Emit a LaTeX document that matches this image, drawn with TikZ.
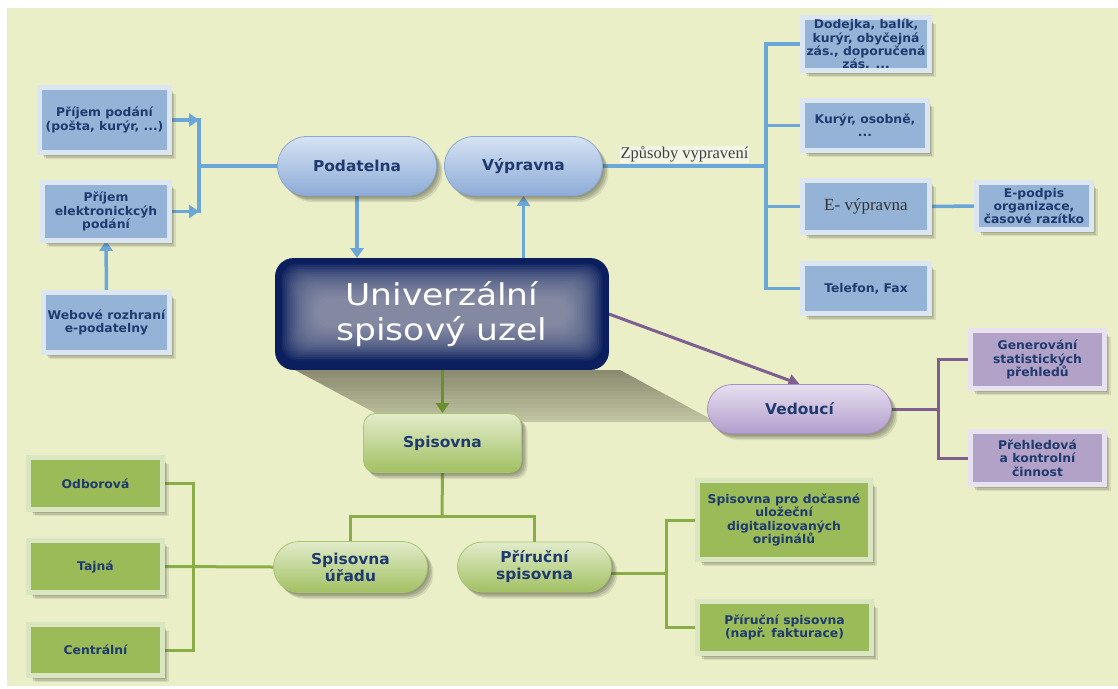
\documentclass[tikz,border=0pt]{standalone}
\usepackage{fontspec}
\setmainfont{DejaVu Sans}
\newfontfamily\bfont[FakeStretch=1.03]{DejaVu Sans}
\newfontfamily\cfont[FakeStretch=1.15]{DejaVu Sans}
\newfontfamily\sfont{Liberation Serif}
\usetikzlibrary{arrows.meta,shadows,calc}
\pgfdeclarelayer{back}
\pgfdeclarelayer{lines}
\pgfsetlayers{back,lines,main}

\definecolor{cream}{HTML}{EAEFC8}
\definecolor{ctxt}{HTML}{1F3A6E}
\definecolor{cBline}{HTML}{6AA7D8}
\definecolor{cBfill}{HTML}{95B3D7}
\definecolor{cBlight}{HTML}{DCE6F3}
\definecolor{cBedge}{HTML}{8CA8D2}
\definecolor{cBtop}{HTML}{D6E2F2}
\definecolor{cBbot}{HTML}{8DACD8}
\definecolor{cPfill}{HTML}{B3A2C7}
\definecolor{cPlight}{HTML}{E8E1F0}
\definecolor{cPedge}{HTML}{A592BE}
\definecolor{cPline}{HTML}{7F5F90}
\definecolor{cPtop}{HTML}{E7DFF0}
\definecolor{cPbot}{HTML}{B29DCD}
\definecolor{cGfill}{HTML}{9BBB59}
\definecolor{cGlight}{HTML}{DAE6C2}
\definecolor{cGedge}{HTML}{A9C570}
\definecolor{cGline}{HTML}{8AAE47}
\definecolor{cGarr}{HTML}{6B8E2E}
\definecolor{cGtop}{HTML}{E2ECCB}
\definecolor{cGbot}{HTML}{A2C062}
\definecolor{cNavy}{HTML}{0B1F5E}
\definecolor{cGlow}{HTML}{A6A7B8}
\definecolor{cLbl}{HTML}{F3F5E6}
\definecolor{cShTop}{HTML}{8A8B70}
\definecolor{cShBot}{HTML}{C6C9A6}
\definecolor{cShadow}{HTML}{3E3F2E}

\tikzset{
  shd/.style={
    drop shadow={shadow xshift=1.5pt,shadow yshift=-2pt,opacity=0.16,fill=cShadow},
    drop shadow={shadow xshift=3pt,shadow yshift=-3.5pt,opacity=0.16,fill=cShadow},
    drop shadow={shadow xshift=4.5pt,shadow yshift=-5pt,opacity=0.16,fill=cShadow},
    drop shadow={shadow xshift=6pt,shadow yshift=-6.5pt,opacity=0.12,fill=cShadow}},
  box/.style={rectangle, line width=0.7pt, double distance=4.5pt, text=ctxt, align=center,
    font=\bfont\bfseries\fontsize{12}{13.3}\selectfont, inner sep=1pt, shd},
  bluebox/.style={box, draw=cBedge, double=cBlight, fill=cBfill},
  purplebox/.style={box, draw=cPedge, double=cPlight, fill=cPfill},
  greenbox/.style={box, draw=cGedge, double=cGlight, fill=cGfill},
  pill/.style={rectangle, line width=0.8pt, text=ctxt, align=center,
    font=\bfont\bfseries\fontsize{15}{17}\selectfont, inner sep=1pt, shd},
  bluepill/.style={pill, draw=cBedge, top color=cBtop, bottom color=cBbot},
  purplepill/.style={pill, draw=cPedge, top color=cPtop, bottom color=cPbot},
  greenpill/.style={pill, draw=cGedge, top color=cGtop, bottom color=cGbot},
  blink/.style={draw=cBline, line width=3.5pt, line cap=rect},
  barrow/.style={draw=cBline, line width=3.5pt, -{Triangle[width=13pt,length=10pt]}},
  plink/.style={draw=cPline, line width=3pt, line cap=rect},
  parrow/.style={draw=cPline, line width=3pt, -{Triangle[width=12pt,length=11pt]}},
  glink/.style={draw=cGline, line width=3pt, line cap=rect},
  garrow/.style={draw=cGarr, line width=3.5pt, -{Triangle[width=13pt,length=10pt]}},
  centralbox/.style={rectangle, rounded corners=18pt, fill=cNavy, draw=cNavy, line width=0.8pt,
    text=white, align=center, font=\cfont\fontsize{30}{35}\selectfont,
    path picture={
      \foreach \k in {0,...,21}{
        \fill[cGlow, opacity=0.075, rounded corners=16pt]
          ($(path picture bounding box.north west)+(6+\k*1.7,5+\k*1.7)$) rectangle
          ($(path picture bounding box.south east)+(-6-\k*1.7,-9-\k*1.7)$);
      }
    }},
}

\begin{document}
\begin{tikzpicture}[x=1pt,y=-1pt]
\useasboundingbox (0,0) rectangle (1118,688);
\begin{pgfonlayer}{back}
  \fill[white] (0,0) rectangle (1118,688);
  \fill[cream] (7,8) rectangle (1118,686);
  \begin{scope}
    \clip (295,370) -- (620,370) -- (716,422) -- (392,422) -- cycle;
    \foreach \i in {0,...,12}{
      \pgfmathsetmacro{\pc}{100-\i*8}
      \fill[cShTop!\pc!cShBot] (280,{370+\i*4.2}) rectangle (730,{374.8+\i*4.2});
    }
  \end{scope}
\end{pgfonlayer}

% central
\node[centralbox, minimum width=333pt, minimum height=111pt] (central) at (442,314)
  {Univerzální\\spisový uzel};

% blue part
\node[bluebox, minimum width=130pt, minimum height=65pt] (pp) at (104.5,120) {Příjem podání\\(pošta, kurýr, ...)};
\node[bluebox, minimum width=127pt, minimum height=58pt] (pe) at (106,211.5) {Příjem\\elektronickcýh\\podání};
\node[bluebox, minimum width=126pt, minimum height=60pt] (web) at (106.5,322.5) {Webové rozhraní\\e-podatelny};
\node[bluepill, minimum width=159pt, minimum height=59pt, rounded corners=29.5pt] (podatelna) at (357,166) {Podatelna};
\node[bluepill, minimum width=158pt, minimum height=59pt, rounded corners=29.5pt] (vypravna) at (523.5,166) {Výpravna};
\node[bluebox, minimum width=127pt, minimum height=53pt] (dod) at (866,44) {Dodejka, balík,\\kurýr, obyčejná\\zás., doporučená\\zás. ...};
\node[bluebox, minimum width=125pt, minimum height=50pt] (kur) at (865,125.5) {Kurýr, osobně,\\...};
\node[bluebox, minimum width=127pt, minimum height=52pt, font=\sfont\fontsize{17}{20}\selectfont, text=black!80] (ev) at (866,206.5) {E- výpravna};
\node[bluebox, minimum width=127pt, minimum height=50pt] (tel) at (866,288.5) {Telefon, Fax};
\node[bluebox, minimum width=115pt, minimum height=47pt] (epod) at (1034,206) {E-podpis\\organizace,\\časové razítko};

% purple part
\node[purplepill, minimum width=184pt, minimum height=49pt, rounded corners=24.5pt] (vedouci) at (799.5,409) {Vedoucí};
\node[purplebox, minimum width=134pt, minimum height=58pt] (gen) at (1037.5,359.5) {Generování\\statistických\\přehledů};
\node[purplebox, minimum width=134pt, minimum height=53pt] (preh) at (1037.5,458) {Přehledová\\a kontrolní\\činnost};

% green part
\node[greenpill, minimum width=158pt, minimum height=59pt, rounded corners=12pt] (spisovna) at (442.5,443) {Spisovna};
\node[greenpill, minimum width=154pt, minimum height=51pt, rounded corners=25.5pt] (spu) at (350.5,567) {Spisovna\\úřadu};
\node[greenpill, minimum width=154pt, minimum height=50pt, rounded corners=25pt] (pris) at (534.5,567) {Příruční\\spisovna};
\node[greenbox, minimum width=134pt, minimum height=52pt] (odb) at (95.5,483.5) {Odborová};
\node[greenbox, minimum width=134pt, minimum height=52pt] (taj) at (95.5,566.5) {Tajná};
\node[greenbox, minimum width=134pt, minimum height=51pt] (cen) at (95.5,650) {Centrální};
\node[greenbox, minimum width=173pt, minimum height=79pt] (doc) at (784,520) {Spisovna pro dočasné\\uložeční\\digitalizovaných\\originálů};
\node[greenbox, minimum width=174pt, minimum height=52pt] (prir) at (784.5,627.5) {Příruční spisovna\\(např. fakturace)};

% junction coordinates
\coordinate (bj) at (199,166);
\coordinate (vj) at (766,166);
\coordinate (vdj) at (938,409);
\coordinate (sj) at (442,516);
\coordinate (uj) at (193,567);
\coordinate (rj) at (666,573);

\begin{pgfonlayer}{lines}
  % podatelna inputs
  \draw[barrow] (pp.east) -- (pp.east -| bj);
  \draw[barrow] (pe.east) -- (pe.east -| bj);
  \draw[blink] (pp.east -| bj) -- (pe.east -| bj);
  \draw[blink] (bj) -- (podatelna.west);
  \draw[barrow] (web.north) -- (pe.south);
  \draw[barrow] (podatelna.south) -- (podatelna.south |- central.north);
  \draw[barrow] (vypravna.south |- central.north) -- (vypravna.south);
  % vypravna tree
  \draw[blink] (vypravna.east) -- (vj)
    node[midway, above=1pt, fill=cLbl, inner sep=1pt, text=black!75,
         font=\sfont\fontsize{16.5}{18}\selectfont] (lbl) {Způsoby vypravení};
  \draw[blink] (dod.west -| vj) -- (tel.west -| vj);
  \draw[blink] (dod.west -| vj) -- (dod.west);
  \draw[blink] (kur.west -| vj) -- (kur.west);
  \draw[blink] (ev.west -| vj) -- (ev.west);
  \draw[blink] (tel.west -| vj) -- (tel.west);
  \draw[blink] (ev.east) -- (epod.west);
  % vedouci
  \draw[parrow] (central.east) -- (vedouci.north);
  \draw[plink] (vedouci.east) -- (vdj);
  \draw[plink] (gen.west -| vdj) -- (preh.west -| vdj);
  \draw[plink] (gen.west -| vdj) -- (gen.west);
  \draw[plink] (preh.west -| vdj) -- (preh.west);
  % spisovna
  \draw[garrow] (central.south -| spisovna.north) -- (spisovna.north);
  \draw[glink] (spisovna.south) -- (sj);
  \draw[glink] (spu.north |- sj) -- (pris.north |- sj);
  \draw[glink] (spu.north |- sj) -- (spu.north);
  \draw[glink] (pris.north |- sj) -- (pris.north);
  % spisovna uradu
  \draw[glink] (spu.west) -- (taj.east);
  \draw[glink] (odb.east -| uj) -- (cen.east -| uj);
  \draw[glink] (odb.east) -- (odb.east -| uj);
  \draw[glink] (cen.east) -- (cen.east -| uj);
  % prirucni
  \draw[glink] (pris.east |- rj) -- (rj);
  \draw[glink] (doc.west -| rj) -- (prir.west -| rj);
  \draw[glink] (doc.west -| rj) -- (doc.west);
  \draw[glink] (prir.west -| rj) -- (prir.west);
\end{pgfonlayer}
\end{tikzpicture}
\end{document}
